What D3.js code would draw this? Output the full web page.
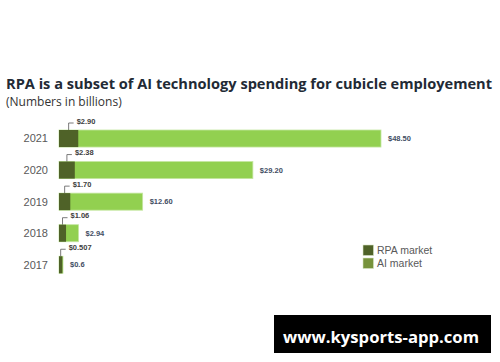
<!DOCTYPE html>
<html lang="en">
<head>
    <meta charset="UTF-8">
    <title>RPA vs AI market</title>
    <style>
        body { margin: 0; background: #fff; }
        svg { display: block; font-family: "Liberation Sans", Arial, sans-serif; }
        .title { font-family: "Open Sans", sans-serif; font-weight: bold; fill: #222a35; }
        .subtitle { font-family: "Open Sans", sans-serif; fill: #333; }
        .year { fill: #595959; font-size: 11px; }
        .val { font-size: 7.5px; font-weight: bold; }
        .legend text { fill: #595959; font-size: 10.5px; }
    </style>
</head>
<body>
    <svg id="chart" width="500" height="362"></svg>

    <script src="https://d3js.org/d3.v7.min.js"></script>
    <script>
        // data (billions)
        const years = ['2021', '2020', '2019', '2018', '2017'];
        const aiMarket = [48.5, 29.2, 12.6, 2.94, 0.6];
        const rpaMarket = [2.90, 2.38, 1.70, 1.06, 0.507];
        const aiLabels = ['$48.50', '$29.20', '$12.60', '$2.94', '$0.6'];
        const rpaLabels = ['$2.90', '$2.38', '$1.70', '$1.06', '$0.507'];
        const seriesNames = ['RPA market', 'AI market'];

        const svg = d3.select('#chart');

        svg.append('text')
            .attr('class', 'title')
            .attr('x', 6).attr('y', 89)
            .attr('font-size', 14)
            .attr('textLength', 486)
            .attr('lengthAdjust', 'spacingAndGlyphs')
            .text('RPA is a subset of AI technology spending for cubicle employement');

        svg.append('text')
            .attr('class', 'subtitle')
            .attr('x', 6).attr('y', 106)
            .attr('font-size', 12)
            .text('(Numbers in billions)');

        const x = d3.scaleLinear().domain([0, 48.5]).range([59, 381]);
        const y = d3.scaleBand().domain(years).range([130, 273.3]).paddingInner(0.46);

        const rows = years.map((yr, i) => ({
            year: yr, ai: aiMarket[i], rpa: rpaMarket[i],
            aiLabel: aiLabels[i], rpaLabel: rpaLabels[i]
        }));

        const g = svg.selectAll('.row').data(rows).enter()
            .append('g').attr('class', 'row');

        // year labels
        g.append('text')
            .attr('class', 'year')
            .attr('x', 48)
            .attr('y', d => y(d.year) + y.bandwidth() / 2)
            .attr('dy', '0.35em')
            .attr('text-anchor', 'end')
            .text(d => d.year);

        // AI bars
        g.append('rect')
            .attr('x', x(0))
            .attr('y', d => y(d.year))
            .attr('width', d => x(d.ai) - x(0))
            .attr('height', y.bandwidth())
            .attr('fill', '#92d050')
            .attr('stroke', '#c4e6a0')
            .attr('stroke-width', 0.8);

        // RPA bars on top
        g.append('rect')
            .attr('x', x(0))
            .attr('y', d => y(d.year))
            .attr('width', d => x(d.rpa) - x(0))
            .attr('height', y.bandwidth())
            .attr('fill', '#4f6228');

        // AI value labels
        g.append('text')
            .attr('class', 'val')
            .attr('fill', '#3f4d63')
            .attr('x', d => x(d.ai) + 7)
            .attr('y', d => y(d.year) + y.bandwidth() / 2)
            .attr('dy', '0.35em')
            .text(d => d.aiLabel);

        // RPA callouts
        g.append('path')
            .attr('fill', 'none')
            .attr('stroke', '#595959')
            .attr('stroke-width', 0.8)
            .attr('d', d => {
                const cx = (x(0) + x(d.rpa)) / 2;
                const top = y(d.year);
                return `M${cx},${top} V${top - 7} H${cx + 5}`;
            });

        g.append('text')
            .attr('class', 'val')
            .attr('fill', '#404040')
            .attr('x', d => (x(0) + x(d.rpa)) / 2 + 8)
            .attr('y', d => y(d.year) - 7)
            .attr('dy', '0.1em')
            .text(d => d.rpaLabel);

        // legend
        const legColors = ['#4f6228', '#77933c'];
        const leg = svg.append('g').attr('class', 'legend')
            .selectAll('g').data(seriesNames).enter()
            .append('g')
            .attr('transform', (d, i) => `translate(363,${245 + i * 13})`);
        leg.append('rect')
            .attr('width', 10.5).attr('height', 10.5)
            .attr('fill', (d, i) => legColors[i])
            .attr('stroke', '#d9e6c4').attr('stroke-width', 0.6);
        leg.append('text')
            .attr('x', 14).attr('y', 5.5).attr('dy', '0.35em')
            .text(d => d);

        // watermark banner
        svg.append('rect')
            .attr('x', 274).attr('y', 315)
            .attr('width', 217).attr('height', 38)
            .attr('fill', '#000');
        svg.append('text')
            .attr('x', 381).attr('y', 343)
            .attr('text-anchor', 'middle')
            .attr('fill', '#fff')
            .attr('font-family', '"Open Sans", sans-serif')
            .attr('font-weight', 'bold')
            .attr('font-size', 15.5)
            .attr('textLength', 196)
            .attr('lengthAdjust', 'spacingAndGlyphs')
            .text('www.kysports-app.com');
    </script>
</body>
</html>
